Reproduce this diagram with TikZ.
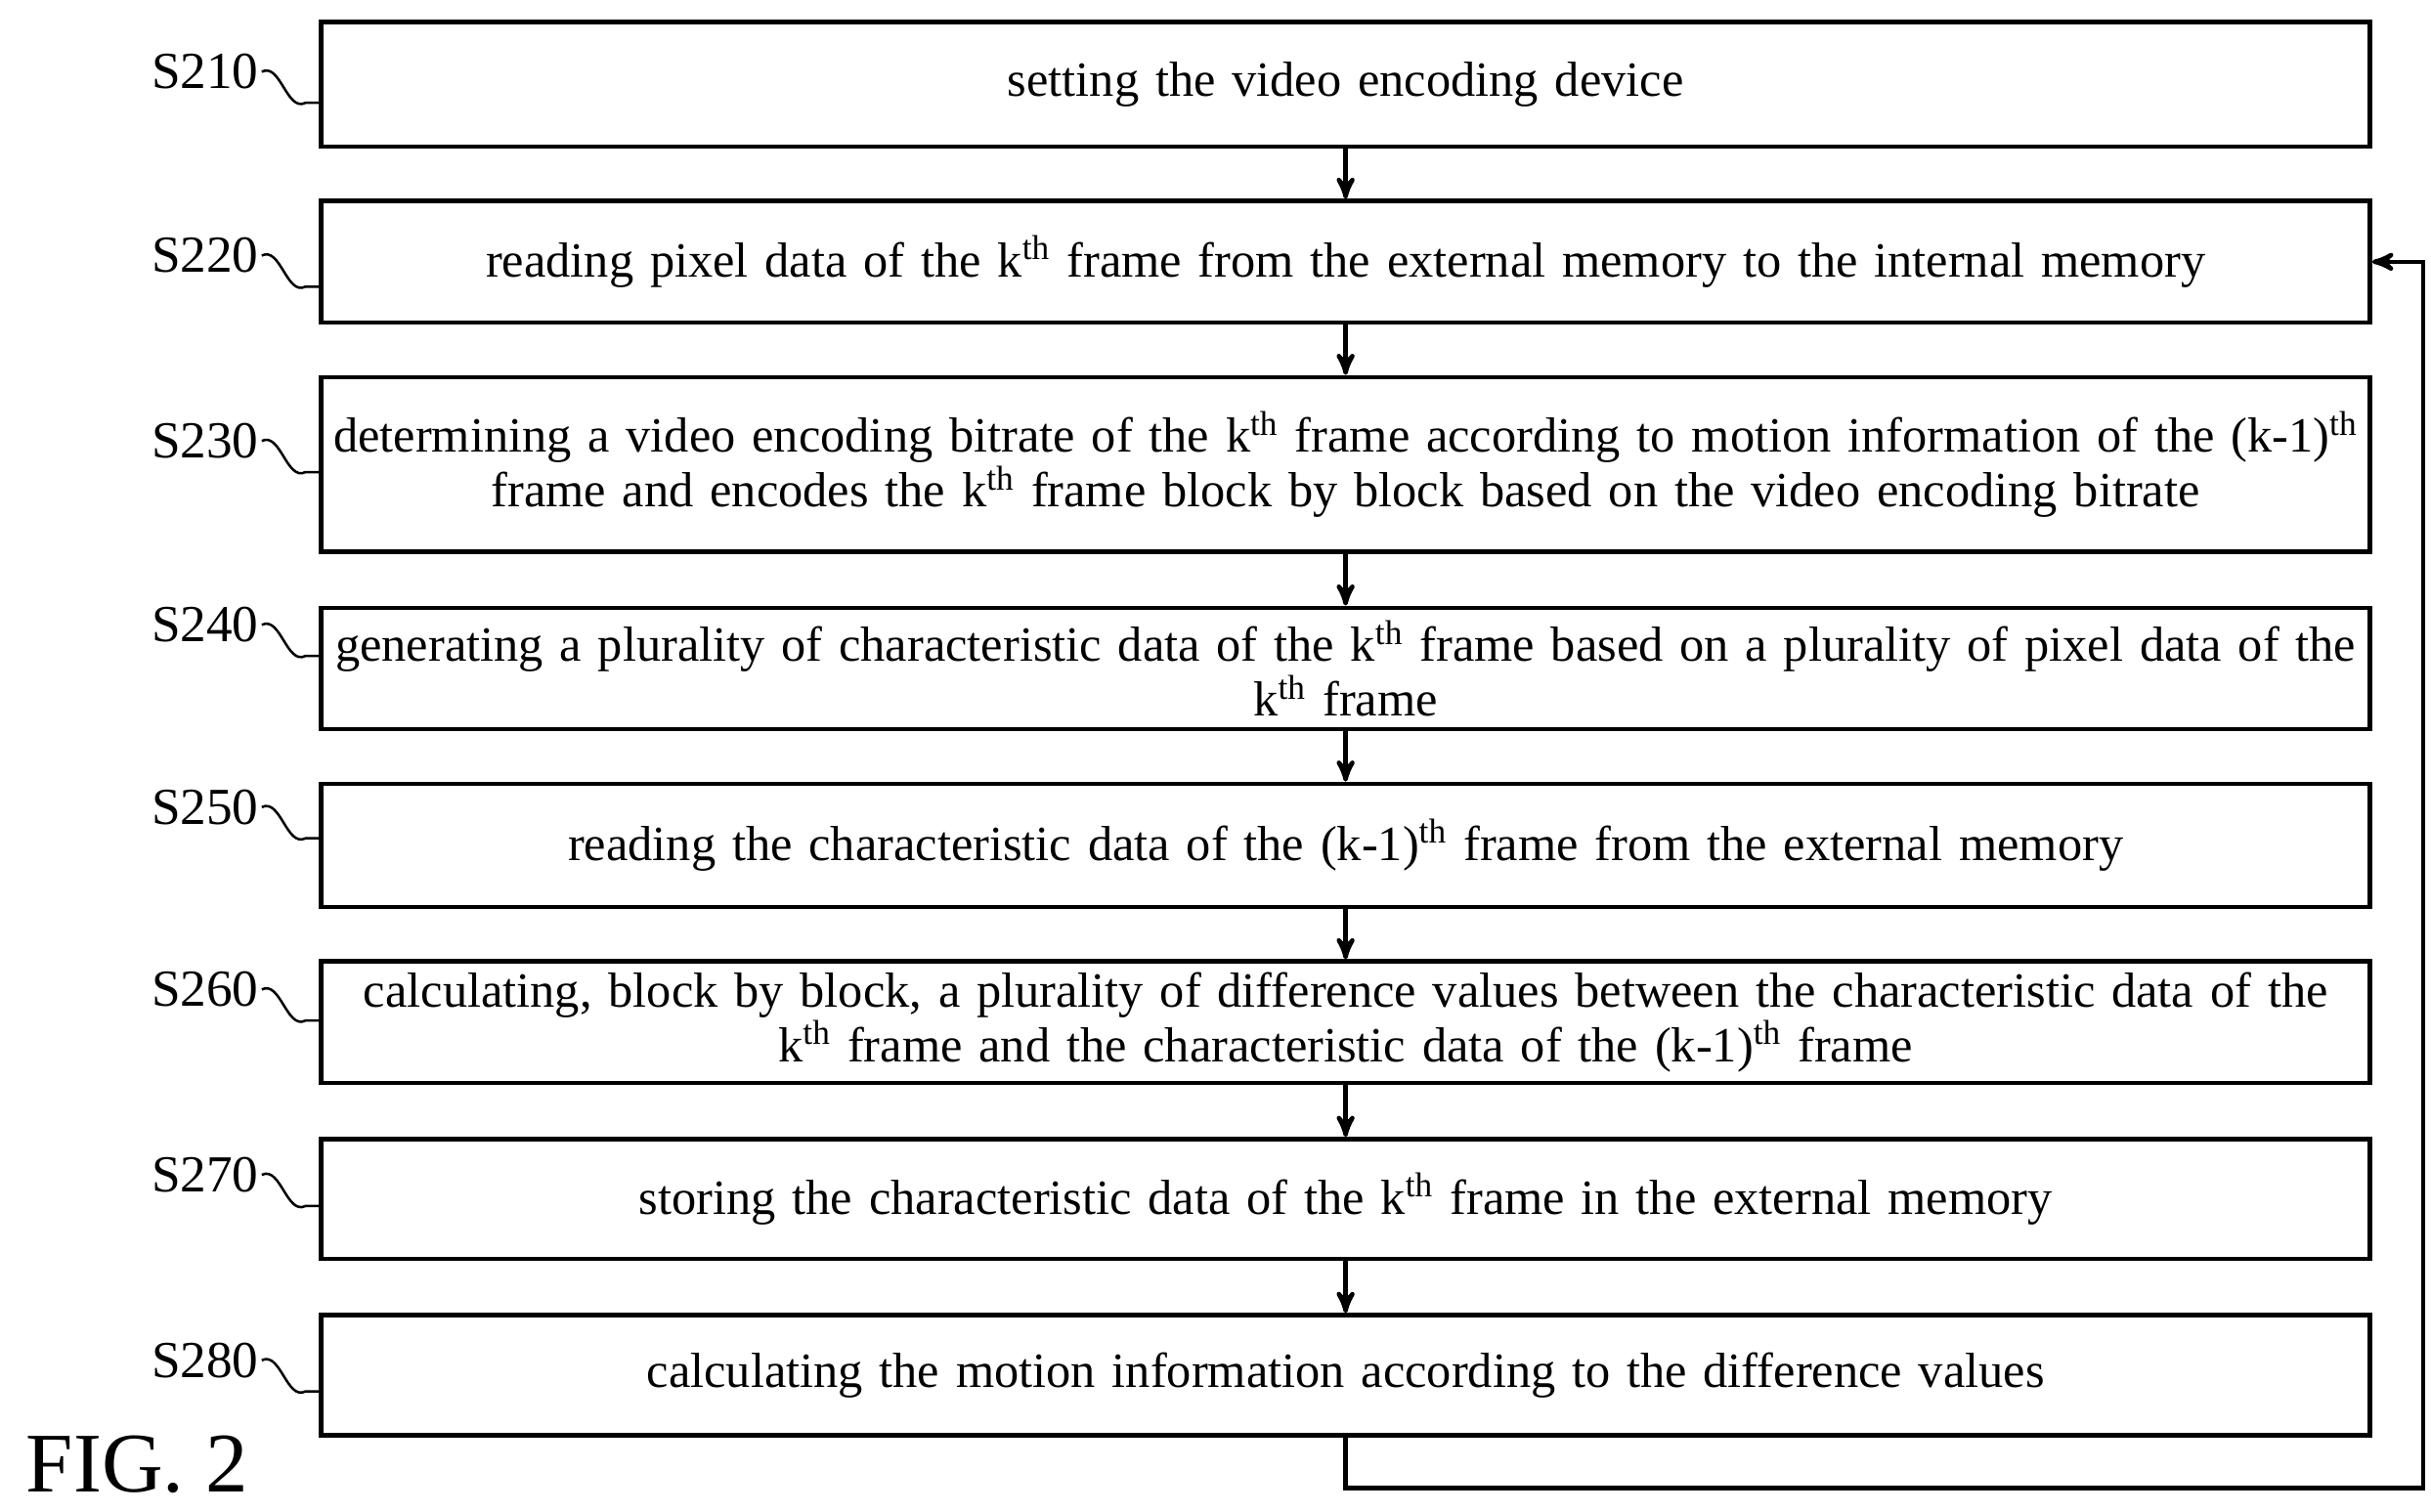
\documentclass[tikz,border=0pt]{standalone}
\usepackage{fontspec}
\setmainfont{Liberation Serif}
\usetikzlibrary{arrows,positioning,calc}

\tikzset{
  stepbox/.style={draw=black,line width=1.6pt,minimum width=26.3cm,text width=26.1cm,align=center,inner sep=0pt,font=\fontsize{18}{20}\selectfont},
  lbl/.style={font=\fontsize{19}{22}\selectfont,inner sep=1pt},
  tie/.style={-,line width=0.9pt},
  flow/.style={->,>=stealth',line width=1.6pt}
}
\newcommand{\kth}{k\textsuperscript{th}}

\begin{document}
\begin{tikzpicture}[x=0.02cm,y=-0.02cm]
            \useasboundingbox (0,0) rectangle (1560,970);
            \node[stepbox,minimum height=1.6cm](s210)at(863.5,54){setting the video encoding device};
            \node[stepbox,minimum height=1.56cm](s220)at(863.5,168){reading pixel data of the \kth{} frame from the external memory to the internal memory};
            \node[stepbox,minimum height=2.24cm](s230)at(863.5,298){determining a video encoding bitrate of the \kth{} frame according to motion information of the (k-1)\textsuperscript{th}\\ frame and encodes the \kth{} frame block by block based on the video encoding bitrate};
            \node[stepbox,minimum height=1.56cm](s240)at(863.5,429){generating a plurality of characteristic data of the \kth{} frame based on a plurality of pixel data of the\\ \kth{} frame};
            \node[stepbox,minimum height=1.58cm](s250)at(863.5,542.5){reading the characteristic data of the (k-1)\textsuperscript{th} frame from the external memory};
            \node[stepbox,minimum height=1.56cm](s260)at(863.5,656){calculating, block by block, a plurality of difference values between the characteristic data of the\\ \kth{} frame and the characteristic data of the (k-1)\textsuperscript{th} frame};
            \node[stepbox,minimum height=1.54cm](s270)at(863.5,769.5){storing the characteristic data of the \kth{} frame in the external memory};
            \node[stepbox,minimum height=1.54cm](s280)at(863.5,882.5){calculating the motion information according to the difference values};
            % step labels
            \node[lbl,anchor=east](l210)at(168,46){S210};
            \node[lbl,anchor=east](l220)at(168,164){S220};
            \node[lbl,anchor=east](l230)at(168,283){S230};
            \node[lbl,anchor=east](l240)at(168,401){S240};
            \node[lbl,anchor=east](l250)at(168,518){S250};
            \node[lbl,anchor=east](l260)at(168,635){S260};
            \node[lbl,anchor=east](l270)at(168,754){S270};
            \node[lbl,anchor=east](l280)at(168,873){S280};
            \node[font=\fontsize{31}{34}\selectfont,inner sep=0pt](fig)at(88,940){FIG. 2};
            \foreach \s in {210,220,230,240,250,260,270,280}
              \draw[tie] (l\s.east) .. controls +(12,-6) and +(-12,6) .. ($(l\s.east)+(28,20)$) -- (s\s.west |- {$(l\s.east)+(0,20)$});
            \foreach \a/\b in {210/220,220/230,230/240,240/250,250/260,260/270,270/280}
              \draw[flow] (s\a) -- (s\b);
            \coordinate (turn1) at (863.5,955);
            \coordinate (turn2) at (1555,955);
            \draw[flow] (s280.south) -- (turn1) -- (turn2) |- (s220.east);
\end{tikzpicture}
\end{document}
